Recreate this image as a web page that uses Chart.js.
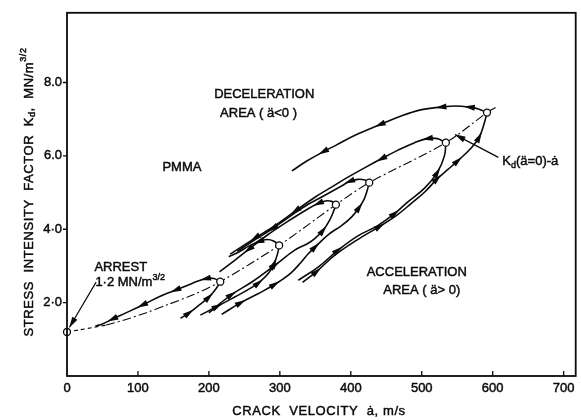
<!DOCTYPE html>
<html>
<head>
<meta charset="utf-8">
<script src="https://cdn.jsdelivr.net/npm/chart.js@4.4.1/dist/chart.umd.min.js"></script>
<style>
  html, body { margin: 0; padding: 0; background: #fff; }
  #wrap { width: 581px; height: 420px; }
</style>
</head>
<body>
<div id="wrap"><canvas id="myChart" width="581" height="420"></canvas></div>
<script>
// Kd - crack velocity loops for PMMA, drawn with chart.js

const FONT = "'Liberation Sans', 'DejaVu Sans', Arial, sans-serif";
const INK = '#0a0a0a';

// axis ticks
const xTicks = [0, 100, 200, 300, 400, 500, 600, 700];
const xTickLabels = ['0', '100', '200', '300', '400', '500', '600', '700'];
const yTicks = [2, 4, 6, 8];
const yTickLabels = ['2·0', '4·0', '6.0', '8.0'];

// Kd(ä=0) - ȧ line
const zeroAccVel = [0, 18, 36, 55, 83, 111, 144, 176, 216, 299, 379, 426, 534, 592, 604];
const zeroAccK   = [1.2, 1.26, 1.32, 1.39, 1.54, 1.72, 1.96, 2.2, 2.57, 3.56, 4.67, 5.27, 6.36, 7.18, 7.32];

// points where ä = 0 (arrest point first)
const turnVel = [0, 216, 299, 379, 426, 534, 592];
const turnK   = [1.2, 2.57, 3.56, 4.67, 5.27, 6.36, 7.18];

// acceleration branches (run towards the turning point)
const acc2Vel = [160, 172, 186, 200, 210, 216];
const acc2K   = [1.57, 1.72, 1.93, 2.15, 2.38, 2.57];
const acc3Vel = [188, 212, 237, 254, 270, 284, 292, 297, 299];
const acc3K   = [1.66, 1.9, 2.16, 2.34, 2.54, 2.8, 3.07, 3.35, 3.56];
const acc4Vel = [200, 216, 232, 261, 293, 321, 340, 350, 361, 370, 376, 379];
const acc4K   = [1.72, 1.98, 2.22, 2.57, 3.02, 3.43, 3.62, 3.76, 3.97, 4.24, 4.5, 4.67];
const acc5Vel = [218, 245, 270, 293, 315, 330, 340, 350, 368, 387, 401, 412, 419, 423, 426];
const acc5K   = [1.68, 2.0, 2.25, 2.5, 2.8, 3.1, 3.33, 3.52, 3.85, 4.1, 4.33, 4.6, 4.83, 5.05, 5.27];
const acc6Vel = [326, 354, 382, 410, 438, 462, 480, 504, 522, 532, 534];
const acc6K   = [2.61, 2.97, 3.43, 3.82, 4.1, 4.43, 4.74, 5.12, 5.55, 6.0, 6.36];
const acc7Vel = [332, 352, 378, 413, 441, 466, 485, 505, 522, 537, 551, 569, 581, 588, 592];
const acc7K   = [2.55, 2.85, 3.3, 3.76, 4.08, 4.4, 4.7, 5.03, 5.38, 5.63, 5.87, 6.2, 6.51, 6.88, 7.18];

// deceleration branches (run away from the turning point)
const dec2Vel = [216, 207, 195, 177, 153, 130, 106, 83, 64, 50, 40];
const dec2K   = [2.57, 2.66, 2.65, 2.53, 2.34, 2.16, 1.93, 1.72, 1.55, 1.42, 1.36];
const dec3Vel = [299, 291, 282, 270, 256, 244, 228];
const dec3K   = [3.56, 3.68, 3.72, 3.66, 3.54, 3.4, 3.25];
const dec4Vel = [379, 373, 364, 354, 340, 310, 283, 256, 235, 215];
const dec4K   = [4.67, 4.76, 4.77, 4.7, 4.56, 4.2, 3.85, 3.45, 3.13, 2.84];
const dec5Vel = [426, 420, 410, 398, 387, 373, 359, 340, 318, 290, 262, 240];
const dec5K   = [5.27, 5.34, 5.36, 5.3, 5.18, 5.03, 4.88, 4.68, 4.4, 4.02, 3.68, 3.4];
const dec6Vel = [534, 522, 508, 490, 466, 443, 420, 396, 373, 350, 322, 293, 265, 242, 230];
const dec6K   = [6.36, 6.47, 6.47, 6.36, 6.15, 5.92, 5.68, 5.42, 5.15, 4.88, 4.5, 4.1, 3.76, 3.47, 3.32];
const dec7Vel = [592, 580, 567, 548, 527, 500, 470, 441, 406, 380, 361, 338, 317];
const dec7K   = [7.18, 7.28, 7.33, 7.36, 7.33, 7.26, 7.08, 6.85, 6.56, 6.3, 6.11, 5.86, 5.59];

const pts = (xs, ys) => xs.map((x, i) => ({ x: x, y: ys[i] }));

function branch(xs, ys, arrowAt) {
    return {
        data: pts(xs, ys),
        showLine: true,
        borderColor: INK,
        borderWidth: 1.6,
        pointRadius: 0,
        tension: 0.4,
        clip: 8,
        arrowAt: arrowAt          // indices that get an arrow head
    };
}

// rich text: parts are strings or {t, sub/sup}
function partFont(p, size) {
    const s = (typeof p === 'object' && (p.sub || p.sup)) ? Math.round(size * 0.7) : size;
    return s + 'px ' + FONT;
}
function drawRich(ctx, parts, x, y, align, size) {
    let w = 0;
    parts.forEach(p => {
        ctx.font = partFont(p, size);
        w += ctx.measureText(typeof p === 'object' ? p.t : p).width;
    });
    let cx = align === 'center' ? x - w / 2 : x;
    ctx.textAlign = 'left';
    ctx.textBaseline = 'middle';
    ctx.lineWidth = 0.45;
    parts.forEach(p => {
        const t = typeof p === 'object' ? p.t : p;
        let dy = 0;
        if (typeof p === 'object' && p.sub) dy = size * 0.3;
        if (typeof p === 'object' && p.sup) dy = -size * 0.4;
        ctx.font = partFont(p, size);
        ctx.fillText(t, cx, y + dy);
        ctx.strokeText(t, cx, y + dy);
        cx += ctx.measureText(t).width;
    });
}

function arrowHead(ctx, x, y, ang, len, half) {
    ctx.save();
    ctx.translate(x, y);
    ctx.rotate(ang);
    ctx.beginPath();
    ctx.moveTo(len / 2, 0);
    ctx.lineTo(-len / 2, half);
    ctx.lineTo(-len / 2, -half);
    ctx.closePath();
    ctx.fill();
    ctx.restore();
}

// text placed in data units
const notes = [
    { x: 278, y: 7.67, align: 'center', parts: ['DECELERATION'] },
    { x: 270, y: 7.16, align: 'center', parts: ['AREA ( ä<0 )'] },
    { x: 162, y: 5.69, align: 'center', parts: ['PMMA'] },
    { x: 38.6, y: 2.97, align: 'left', parts: ['ARREST'] },
    { x: 40, y: 2.54, align: 'left', parts: ['1·2 MN/m', { t: '3/2', sup: true }] },
    { x: 493, y: 2.81, align: 'center', parts: ['ACCELERATION'] },
    { x: 500, y: 2.32, align: 'center', parts: ['AREA ( ä> 0)'] },
    { x: 613.6, y: 5.85, align: 'left', parts: ['K', { t: 'd', sub: true }, '(ä=0)-ȧ'] }
];
const pointers = [
    { from: [41, 2.56], to: [3.5, 1.33] },
    { from: [608, 5.96], to: [547, 6.58] }
];

const extras = {
    id: 'extras',
    afterDatasetsDraw(chart) {
        const ctx = chart.ctx;
        ctx.save();
        ctx.fillStyle = INK;
        chart.data.datasets.forEach((ds, di) => {
            if (!ds.arrowAt) return;
            const el = chart.getDatasetMeta(di).data;
            ds.arrowAt.forEach(i => {
                const a = el[Math.max(i - 1, 0)], b = el[Math.min(i + 1, el.length - 1)];
                const ang = Math.atan2(b.y - a.y, b.x - a.x);
                arrowHead(ctx, el[i].x, el[i].y, ang, 11, 3);
            });
        });
        ctx.restore();
    },
    afterDraw(chart) {
        const ctx = chart.ctx;
        const { left, right, top, bottom } = chart.chartArea;
        const xs = chart.scales.x, ys = chart.scales.y;
        ctx.save();
        ctx.strokeStyle = INK;
        ctx.fillStyle = INK;

        // frame
        ctx.lineWidth = 1.8;
        ctx.strokeRect(left, top, right - left, bottom - top);

        // ticks: inward on x, outward on y
        ctx.lineWidth = 1.3;
        ctx.beginPath();
        xTicks.slice(1).forEach(v => {
            const px = xs.getPixelForValue(v);
            ctx.moveTo(px, bottom);
            ctx.lineTo(px, bottom - 5);
        });
        yTicks.forEach(v => {
            const py = ys.getPixelForValue(v);
            ctx.moveTo(left - 4, py);
            ctx.lineTo(left, py);
        });
        ctx.stroke();

        // axis titles
        ctx.letterSpacing = '0.6px';
        drawRich(ctx, ['CRACK  VELOCITY  ȧ, m/s'], 319, 411, 'center', 13);
        ctx.save();
        ctx.translate(29, 192);
        ctx.rotate(-Math.PI / 2);
        drawRich(ctx, ['STRESS  INTENSITY  FACTOR  K', { t: 'd', sub: true }, ',  MN/m', { t: '3/2', sup: true }], 0, 0, 'center', 13);
        ctx.restore();
        ctx.letterSpacing = '0px';

        // notes
        notes.forEach(n => {
            drawRich(ctx, n.parts, xs.getPixelForValue(n.x), ys.getPixelForValue(n.y), n.align, 13);
        });

        // pointer lines with heads
        ctx.lineWidth = 1.2;
        pointers.forEach(p => {
            const x0 = xs.getPixelForValue(p.from[0]), y0 = ys.getPixelForValue(p.from[1]);
            const x1 = xs.getPixelForValue(p.to[0]), y1 = ys.getPixelForValue(p.to[1]);
            ctx.beginPath();
            ctx.moveTo(x0, y0);
            ctx.lineTo(x1, y1);
            ctx.stroke();
            const ang = Math.atan2(y1 - y0, x1 - x0);
            arrowHead(ctx, x1 - Math.cos(ang) * 5, y1 - Math.sin(ang) * 5, ang, 11, 3);
        });
        ctx.restore();
    }
};

const tickFont = { family: FONT, size: 13 };

const ctx = document.getElementById('myChart');
const myChart = new Chart(ctx, {
    type: 'scatter',
    data: {
        datasets: [
            {
                // arrest and ä = 0 points
                data: pts(turnVel, turnK),
                pointRadius: 3.5,
                pointBackgroundColor: '#fff',
                pointBorderColor: INK,
                pointBorderWidth: 1.3,
                showLine: false,
                clip: false,
                order: -1
            },
            {
                data: pts(zeroAccVel, zeroAccK),
                showLine: true,
                borderColor: INK,
                borderWidth: 1.1,
                pointRadius: 0,
                tension: 0.3,
                clip: 8,
                segment: {
                    borderDash: c => c.p0DataIndex < 3 ? [4, 3] : [9, 3, 2, 3]
                }
            },
            branch(acc2Vel, acc2K, [1, 3]),
            branch(acc3Vel, acc3K, [1, 4, 6]),
            branch(acc4Vel, acc4K, [2, 4, 8]),
            branch(acc5Vel, acc5K, [1, 3, 7, 11]),
            branch(acc6Vel, acc6K, [2, 5, 8]),
            branch(acc7Vel, acc7K, [1, 4, 8, 10, 12]),
            branch(dec2Vel, dec2K, [2, 4, 6, 8]),
            branch(dec3Vel, dec3K, [3]),
            branch(dec4Vel, dec4K, [3, 7]),
            branch(dec5Vel, dec5K, [3, 9]),
            branch(dec6Vel, dec6K, [2, 5, 10, 12]),
            branch(dec7Vel, dec7K, [2, 4, 7, 10])
        ]
    },
    options: {
        responsive: false,
        animation: false,
        layout: { padding: { top: 12, right: 2, left: 0, bottom: 0 } },
        plugins: {
            legend: { display: false },
            tooltip: { enabled: false }
        },
        scales: {
            x: {
                type: 'linear',
                min: 0,
                max: 717,
                afterBuildTicks: s => { s.ticks = xTicks.map(v => ({ value: v })); },
                afterFit: s => { s.height = 44; },
                grid: { display: false, drawTicks: false },
                border: { display: false },
                ticks: {
                    padding: 5,
                    color: INK,
                    textStrokeColor: INK,
                    textStrokeWidth: 0.45,
                    autoSkip: false,
                    maxRotation: 0,
                    font: tickFont,
                    callback: (v, i) => xTickLabels[i]
                }
            },
            y: {
                type: 'linear',
                min: 0,
                max: 9.9,
                afterBuildTicks: s => { s.ticks = yTicks.map(v => ({ value: v })); },
                afterFit: s => { s.width = 67; },
                grid: { display: false, drawTicks: false },
                border: { display: false },
                ticks: {
                    padding: 5,
                    color: INK,
                    textStrokeColor: INK,
                    textStrokeWidth: 0.45,
                    font: tickFont,
                    callback: (v, i) => yTickLabels[i]
                }
            }
        }
    },
    plugins: [extras]
});
</script>
</body>
</html>
